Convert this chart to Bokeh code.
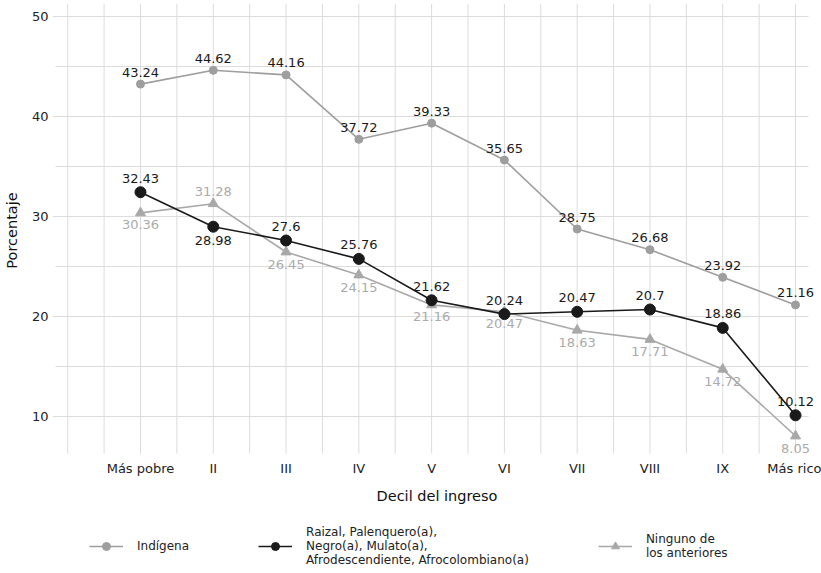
from bokeh.plotting import figure
from bokeh.layouts import column
from bokeh.models import ColumnDataSource, FixedTicker, Legend, LegendItem
from bokeh.core.properties import value
from bokeh.embed import file_html
from bokeh.resources import INLINE

deciles = ["Más pobre", "II", "III", "IV", "V", "VI", "VII", "VIII", "IX", "Más rico"]
indigena = [43.24, 44.62, 44.16, 37.72, 39.33, 35.65, 28.75, 26.68, 23.92, 21.16]
afro = [32.43, 28.98, 27.6, 25.76, 21.62, 20.24, 20.47, 20.7, 18.86, 10.12]
ninguno = [30.36, 31.28, 26.45, 24.15, 21.16, 20.47, 18.63, 17.71, 14.72, 8.05]
y_ticks = [10, 20, 30, 40, 50]

# label placement (style): 1 = above the point, -1 = below
afro_side = [1, -1, 1, 1, 1, 1, 1, 1, 1, 1]
ninguno_side = [-1, 1, -1, -1, -1, -1, -1, -1, -1, -1]

FONT = "DejaVu Sans"
GRID = "#dcdcdc"
C_IND = "#9e9e9e"
C_AFRO = "#1a1a1a"
C_NIN = "#a8a8a8"
C_NIN_TXT = "#ababab"

xs = list(range(len(deciles)))

# panel extents (data units)
X0, X1 = -1.209, 9.357      # frame
GX0, GX1 = -1.168, 9.178    # grid extent
Y0, Y1 = 5.9, 51.3          # frame
GYT = 6.3                   # bottom end of vertical grid lines (incl. tick)

p = figure(frame_width=769, frame_height=454, output_backend="svg", toolbar_location=None,
           x_range=(X0, X1), y_range=(Y0, Y1),
           min_border_left=52, min_border_right=0, min_border_top=3, min_border_bottom=58)
p.outline_line_color = None
p.background_fill_color = "white"
p.xgrid.visible = False
p.ygrid.visible = False

p.xaxis.ticker = FixedTicker(ticks=xs)
p.xaxis.major_label_overrides = {i: d for i, d in enumerate(deciles)}
p.yaxis.ticker = FixedTicker(ticks=y_ticks)
for ax in (p.xaxis[0], p.yaxis[0]):
    ax.axis_line_color = None
    ax.major_tick_line_color = None
    ax.major_tick_in = 0
    ax.major_tick_out = 0
    ax.minor_tick_line_color = None
    ax.minor_tick_in = 0
    ax.minor_tick_out = 0
    ax.major_label_text_font = FONT
    ax.major_label_text_font_size = "13px"
    ax.major_label_text_color = "#222222"
    ax.axis_label_text_font = FONT
    ax.axis_label_text_font_size = "14.5px"
    ax.axis_label_text_font_style = "normal"
    ax.axis_label_text_color = "#111111"
p.xaxis.axis_label = "Decil del ingreso"
p.yaxis.axis_label = "Porcentaje"
p.xaxis.major_label_standoff = 3
p.yaxis.major_label_standoff = 4
p.xaxis.axis_label_standoff = 9
p.yaxis.axis_label_standoff = 9

# grid lines (with their small outer ticks)
minor_y = [(a + b) / 2 for a, b in zip(y_ticks, y_ticks[1:])]
hy = y_ticks + minor_y
p.segment(x0=[X0] * len(y_ticks) + [GX0] * len(minor_y), x1=[GX1] * len(hy),
          y0=hy, y1=hy, line_color=GRID, line_width=1)
vx = [i / 2 for i in range(-2, 2 * len(deciles) - 1)]
p.segment(x0=vx, x1=vx, y0=[GYT] * len(vx), y1=[Y1] * len(vx), line_color=GRID, line_width=1)

src = ColumnDataSource(dict(
    x=xs, ind=indigena, afro=afro, nin=ninguno,
    ind_lab=[f"{v:g}" for v in indigena],
    afro_lab=[f"{v:g}" for v in afro],
    nin_lab=[f"{v:g}" for v in ninguno],
    afro_off=[-14 * s for s in afro_side],
    nin_off=[-12 * s for s in ninguno_side],
))

p.line("x", "ind", source=src, line_color=C_IND, line_width=1.6)
p.scatter("x", "ind", source=src, marker="circle", size=8, fill_color=C_IND, line_color=C_IND)
p.line("x", "nin", source=src, line_color=C_NIN, line_width=1.6)
p.scatter("x", "nin", source=src, marker="triangle", size=10, fill_color=C_NIN, line_color=C_NIN)
p.line("x", "afro", source=src, line_color=C_AFRO, line_width=1.6)
p.scatter("x", "afro", source=src, marker="circle", size=11, fill_color=C_AFRO, line_color=C_AFRO)

common = dict(text_font=value(FONT), text_font_size="13px", text_align="center", text_baseline="middle")
p.text("x", "ind", text="ind_lab", source=src, y_offset=-12, text_color="#1a1a1a", **common)
p.text("x", "afro", text="afro_lab", source=src, y_offset="afro_off", text_color="#1a1a1a", **common)
p.text("x", "nin", text="nin_lab", source=src, y_offset="nin_off", text_color=C_NIN_TXT, **common)

# legend panel (stand-in renderers sit outside the visible range; only their legend swatches show)
leg = figure(width=821, height=58, output_backend="svg", toolbar_location=None,
             x_range=(0, 1), y_range=(0, 1), min_border=0,
             x_axis_location=None, y_axis_location=None)
leg.grid.visible = False
leg.outline_line_color = None
off = ColumnDataSource(dict(x=[-5, -4], y=[-5, -4]))
r1 = [leg.line("x", "y", source=off, line_color=C_IND, line_width=1.6),
      leg.scatter("x", "y", source=off, marker="circle", size=8, fill_color=C_IND, line_color=C_IND)]
r2 = [leg.line("x", "y", source=off, line_color=C_AFRO, line_width=1.6),
      leg.scatter("x", "y", source=off, marker="circle", size=11, fill_color=C_AFRO, line_color=C_AFRO)]
r3 = [leg.line("x", "y", source=off, line_color=C_NIN, line_width=1.6),
      leg.scatter("x", "y", source=off, marker="triangle", size=10, fill_color=C_NIN, line_color=C_NIN)]
legend = Legend(items=[
    LegendItem(label="Indígena", renderers=r1),
    LegendItem(label="Raizal, Palenquero(a),\nNegro(a), Mulato(a),\nAfrodescendiente, Afrocolombiano(a)", renderers=r2),
    LegendItem(label="Ninguno de\nlos anteriores", renderers=r3),
], orientation="horizontal", location=(37, 6))
legend.label_text_font = FONT
legend.label_text_font_size = "12px"
legend.label_text_color = "#222222"
legend.glyph_width = 34
legend.label_standoff = 14
legend.spacing = 69
legend.border_line_color = None
legend.background_fill_alpha = 0
legend.padding = 0
legend.margin = 0
leg.add_layout(legend, "center")

open("out.html", "w").write(file_html(column(p, leg), INLINE))
